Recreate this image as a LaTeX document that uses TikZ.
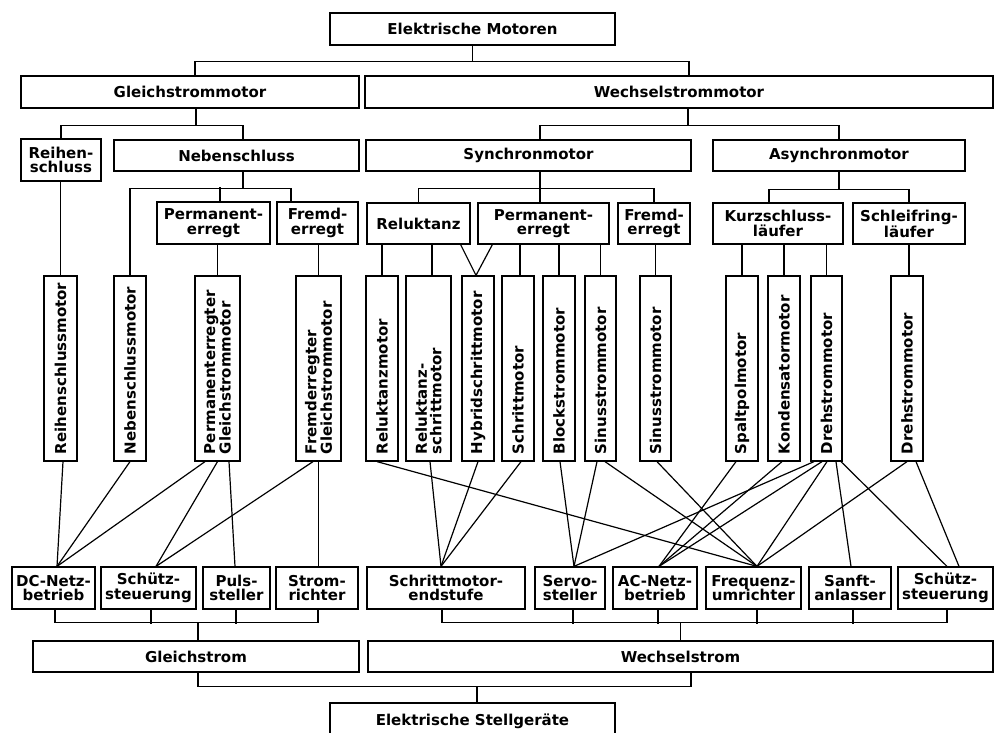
\documentclass[tikz,border=0pt]{standalone}
\usepackage{fontspec}
\newfontfamily\dvs{DejaVu Sans}
\newcommand{\bfnt}{\dvs\bfseries\fontsize{15}{14.6}\selectfont}
\begin{document}
\begin{tikzpicture}[x=1pt,y=-1pt,
  box/.style={draw, line width=1.25pt, inner sep=0pt, align=center, font=\bfnt},
  vbox/.style={draw, line width=1.25pt, rotate=90, minimum width=185pt, inner xsep=7pt, inner ysep=0pt, text width=171pt, align=left, font=\bfnt},
  conn/.style={line width=1.2pt}]
\useasboundingbox (0,0) rectangle (994,733);
% --- top tree
\node[box, minimum width=285pt, minimum height=32pt] (em) at (472.5,29) {Elektrische Motoren};
\node[box, minimum width=338pt, minimum height=32pt] (gm) at (190,92) {Gleichstrommotor};
\node[box, minimum width=628pt, minimum height=32pt] (wm) at (679,92) {Wechselstrommotor};
\node[box, minimum width=80pt, minimum height=42pt] (rs) at (61,160) {Reihen-\\schluss};
\node[box, minimum width=245pt, minimum height=31pt] (ns) at (236.5,155.5) {Nebenschluss};
\node[box, minimum width=113pt, minimum height=42pt] (pe1) at (213.5,223) {Permanent-\\erregt};
\node[box, minimum width=81pt, minimum height=42pt] (fe1) at (317.5,223) {Fremd-\\erregt};
\node[box, minimum width=325pt, minimum height=31pt] (sm) at (528.5,155.5) {Synchronmotor};
\node[box, minimum width=252pt, minimum height=31pt] (am) at (839,155.5) {Asynchronmotor};
\node[box, minimum width=103pt, minimum height=41pt] (rel) at (418.5,223.5) {Reluktanz};
\node[box, minimum width=131pt, minimum height=41pt] (pe2) at (543.5,223.5) {Permanent-\\erregt};
\node[box, minimum width=72pt, minimum height=41pt] (fe2) at (654,223.5) {Fremd-\\erregt};
\node[box, minimum width=130pt, minimum height=41pt] (kl) at (778,223.5) {Kurzschluss-\\läufer};
\node[box, minimum width=112pt, minimum height=41pt] (sl) at (909,223.5) {Schleifring-\\läufer};
% --- motors (vertical)
\node[vbox, minimum height=33pt] (m1) at (60.5,368.5) {Reihenschlussmotor};
\node[vbox, minimum height=32pt] (m2) at (130,368.5) {Nebenschlussmotor};
\node[vbox, minimum height=45pt] (m3) at (217.5,368.5) {Permanenterregter\\Gleichstrommotor};
\node[vbox, minimum height=45pt] (m4) at (318.5,368.5) {Fremderregter\\Gleichstrommotor};
\node[vbox, minimum height=32pt] (m5) at (382,368.5) {Reluktanzmotor};
\node[vbox, minimum height=45pt] (m6) at (428.5,368.5) {Reluktanz-\\schrittmotor};
\node[vbox, minimum height=32pt] (m7) at (478,368.5) {Hybridschrittmotor};
\node[vbox, minimum height=32pt] (m8) at (518,368.5) {Schrittmotor};
\node[vbox, minimum height=32pt] (m9) at (559,368.5) {Blockstrommotor};
\node[vbox, minimum height=31pt] (m10) at (600.5,368.5) {Sinusstrommotor};
\node[vbox, minimum height=31pt] (m11) at (655.5,368.5) {Sinusstrommotor};
\node[vbox, minimum height=32pt] (m12) at (742,368.5) {Spaltpolmotor};
\node[vbox, minimum height=32pt] (m13) at (784,368.5) {Kondensatormotor};
\node[vbox, minimum height=31pt] (m14) at (826.5,368.5) {Drehstrommotor};
\node[vbox, minimum height=32pt] (m15) at (907,368.5) {Drehstrommotor};
% --- controllers
\node[box, minimum width=83pt, minimum height=42pt] (b1) at (53.5,588) {DC-Netz-\\betrieb};
\node[box, minimum width=95pt, minimum height=42pt] (b2) at (148.5,588) {Schütz-\\steuerung};
\node[box, minimum width=67pt, minimum height=42pt] (b3) at (236.5,588) {Puls-\\steller};
\node[box, minimum width=82pt, minimum height=42pt] (b4) at (317,588) {Strom-\\richter};
\node[box, minimum width=158pt, minimum height=42pt] (b5) at (446,588) {Schrittmotor-\\endstufe};
\node[box, minimum width=70pt, minimum height=42pt] (b6) at (570,588) {Servo-\\steller};
\node[box, minimum width=84pt, minimum height=42pt] (b7) at (655,588) {AC-Netz-\\betrieb};
\node[box, minimum width=95pt, minimum height=42pt] (b8) at (753.5,588) {Frequenz-\\umrichter};
\node[box, minimum width=82pt, minimum height=42pt] (b9) at (850,588) {Sanft-\\anlasser};
\node[box, minimum width=95pt, minimum height=42pt] (b10) at (945.5,588) {Schütz-\\steuerung};
\node[box, minimum width=326pt, minimum height=31pt] (gs) at (196,656.5) {Gleichstrom};
\node[box, minimum width=625pt, minimum height=31pt] (ws) at (680.5,656.5) {Wechselstrom};
\node[box, minimum width=285pt, minimum height=37pt] (es) at (472.5,721.5) {Elektrische Stellgeräte};
% --- tree connectors (top)
\draw[conn] (em.south) -- ++(0,16) coordinate (j0);
\draw[conn] ([xshift=5]gm.north) |- (j0) -| ([xshift=10]wm.north);
\draw[conn] ([xshift=6]gm.south) -- ++(0,17) coordinate (j1);
\draw[conn] (rs.north) |- (j1) -| ([xshift=6.5]ns.north);
\draw[conn] ([xshift=6.5]ns.south) -- ++(0,17) coordinate (j2);
\draw[conn] (m2.east) |- (j2) -| ([xshift=-26.5]fe1.north);
\draw[conn] ([xshift=6.5]pe1.north) -- ++(0,-14);
\draw[conn] (m1.east) -- (m1.east |- rs.south);
\draw[conn] (m3.east) -- (m3.east |- pe1.south);
\draw[conn] (m4.east) -- (m4.east |- fe1.south);
\draw[conn] ([xshift=9]wm.south) -- ++(0,17) coordinate (j3);
\draw[conn] ([xshift=11.5]sm.north) |- (j3) -| (am.north);
\draw[conn] ([xshift=11.5]sm.south) -- ++(0,17) coordinate (j4);
\draw[conn] (rel.north) |- (j4) -| (fe2.north);
\draw[conn] (j4) -- ([xshift=-3.5]pe2.north);
\draw[conn] (am.south) -- ++(0,18) coordinate (j5);
\draw[conn] ([xshift=-9]kl.north) |- (j5) -| (sl.north);
\draw[conn] (m5.east) -- (m5.east |- rel.south);
\draw[conn] ([xshift=3.5]m6.east) -- ([xshift=3.5]m6.east |- rel.south);
\draw[conn] ([xshift=-10]rel.south east) -- ([xshift=-2]m7.east) -- ([xshift=15]pe2.south west);
\draw[conn] ([xshift=2]m8.east) -- ([xshift=2]m8.east |- pe2.south);
\draw[conn] (m9.east) -- (m9.east |- pe2.south);
\draw[conn] (m10.east) -- (m10.east |- pe2.south);
\draw[conn] (m11.east) -- (m11.east |- fe2.south);
\draw[conn] (m12.east) -- (m12.east |- kl.south);
\draw[conn] (m13.east) -- (m13.east |- kl.south);
\draw[conn] (m14.east) -- (m14.east |- kl.south);
\draw[conn] ([xshift=2]m15.east) -- ([xshift=2]m15.east |- sl.south);
% --- cross connectors
\draw[conn] ([xshift=2.5]m1.west) -- ([xshift=3.5]b1.north);
\draw[conn] (m2.west) -- ([xshift=3.5]b1.north);
\draw[conn] ([xshift=-12.5]m3.west) -- ([xshift=3.5]b1.north);
\draw[conn] (m3.west) -- ([xshift=7.5]b2.north);
\draw[conn] ([xshift=11.5]m3.west) -- ([xshift=-1.5]b3.north);
\draw[conn] ([xshift=-5.5]m4.west) -- ([xshift=7.5]b2.north);
\draw[conn] (m4.west) -- (m4.west |- b4.north);
\draw[conn] ([xshift=-5]m5.west) -- ([xshift=3.5]b8.north);
\draw[conn] ([xshift=1.5]m6.west) -- ([xshift=-5]b5.north);
\draw[conn] (m7.west) -- ([xshift=-5]b5.north);
\draw[conn] ([xshift=3]m8.west) -- ([xshift=-5]b5.north);
\draw[conn] ([xshift=1]m9.west) -- ([xshift=4]b6.north);
\draw[conn] ([xshift=-3.5]m10.west) -- ([xshift=4]b6.north);
\draw[conn] ([xshift=4.5]m10.west) -- ([xshift=3.5]b8.north);
\draw[conn] ([xshift=1.5]m11.west) -- ([xshift=3.5]b8.north);
\draw[conn] ([xshift=-6]m12.west) -- ([xshift=4]b7.north);
\draw[conn] ([xshift=-2]m13.west) -- ([xshift=4]b7.north);
\draw[conn] ([xshift=-12.5]m14.west) -- ([xshift=4]b6.north);
\draw[conn] ([xshift=-4.5]m14.west) -- ([xshift=4]b7.north);
\draw[conn] ([xshift=0.5]m14.west) -- ([xshift=3.5]b8.north);
\draw[conn] ([xshift=9.5]m14.west) -- ([xshift=1]b9.north);
\draw[conn] ([xshift=14.5]m14.west) -- ([xshift=1.5]b10.north);
\draw[conn] (m15.west) -- ([xshift=3.5]b8.north);
\draw[conn] ([xshift=9]m15.west) -- ([xshift=13.5]b10.north);
% --- bottom tree
\draw[conn] ([xshift=2]gs.north) -- ++(0,-18) coordinate (j6);
\draw[conn] ([xshift=1.5]b1.south) |- (j6) -| ([xshift=1]b4.south);
\draw[conn] ([xshift=2.5]b2.south) -- ++(0,14);
\draw[conn] ([xshift=-0.5]b3.south) -- ++(0,14);
\draw[conn] (ws.north) -- ++(0,-18) coordinate (j7);
\draw[conn] ([xshift=-4]b5.south) |- (j7) -| ([xshift=1.5]b10.south);
\draw[conn] ([xshift=3]b6.south) -- ++(0,14);
\draw[conn] ([xshift=3]b7.south) -- ++(0,14);
\draw[conn] ([xshift=3.5]b8.south) -- ++(0,14);
\draw[conn] ([xshift=3]b9.south) -- ++(0,14);
\draw[conn] ([xshift=4.5]es.north) -- ++(0,-16) coordinate (j8);
\draw[conn] ([xshift=2]gs.south) |- (j8) -| ([xshift=10.5]ws.south);
\end{tikzpicture}
\end{document}
